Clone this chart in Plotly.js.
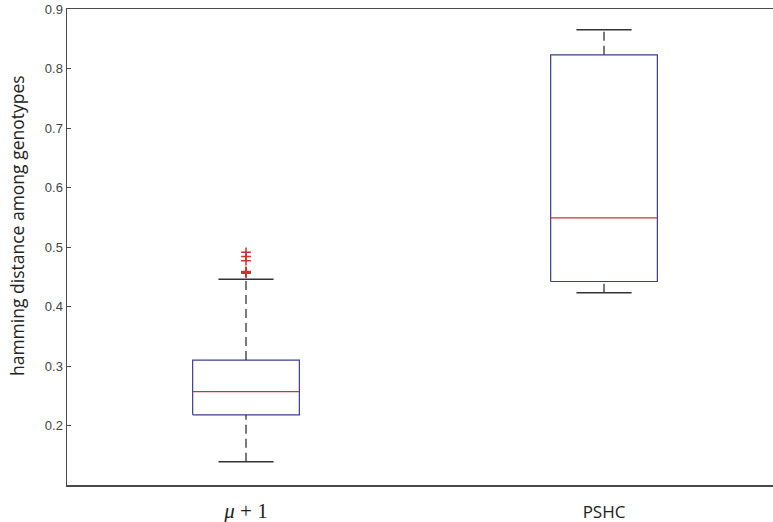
<!DOCTYPE html>
<html>
<head>
<meta charset="utf-8">
<script src="https://cdn.plot.ly/plotly-3.0.1.min.js"></script>
<style>html,body{margin:0;padding:0;background:#fff;}#chart{width:773px;height:522px;}</style>
</head>
<body>
<div id="chart"></div>
<script>
// ---- data ----
var categories = ['μ + 1', 'PSHC'];
var positions = [1, 2];
var lowerWhisker = [0.139, 0.423];
var q1Values = [0.218, 0.442];
var medianValues = [0.257, 0.549];
var q3Values = [0.310, 0.823];
var upperWhisker = [0.446, 0.865];
var outliersMu = [0.456, 0.457, 0.458, 0.459, 0.477, 0.484, 0.491];
var yTickVals = [0.2, 0.3, 0.4, 0.5, 0.6, 0.7, 0.8, 0.9];
var yTitle = 'hamming distance among genotypes';

// ---- style ----
var boxHalf = 0.149, capHalf = 0.077;
var boxColor = '#3b3b95', medColor = '#d03030', whiskColor = '#333333';

function fmtCat(c) {
  if (c.indexOf('μ') >= 0) {
    return '<span style="font-family:Liberation Serif;font-size:21px">' + c.replace('μ', '<i>μ</i>') + '</span>';
  }
  return c;
}

var traces = [];
for (var i = 0; i < positions.length; i++) {
  var p = positions[i];
  traces.push({x:[p-boxHalf,p+boxHalf,p+boxHalf,p-boxHalf,p-boxHalf], y:[q1Values[i],q1Values[i],q3Values[i],q3Values[i],q1Values[i]],
    mode:'lines', line:{color:boxColor,width:1.2}, hoverinfo:'skip', showlegend:false});
  traces.push({x:[p-boxHalf,p+boxHalf], y:[medianValues[i],medianValues[i]], mode:'lines', line:{color:medColor,width:1.2}, showlegend:false});
  traces.push({x:[p,p], y:[q3Values[i],upperWhisker[i]], mode:'lines', line:{color:whiskColor,width:1.3,dash:'9px,5px'}, showlegend:false});
  traces.push({x:[p,p], y:[lowerWhisker[i],q1Values[i]], mode:'lines', line:{color:whiskColor,width:1.3,dash:'9px,5px'}, showlegend:false});
  traces.push({x:[p-capHalf,p+capHalf], y:[upperWhisker[i],upperWhisker[i]], mode:'lines', line:{color:whiskColor,width:1.5}, showlegend:false});
  traces.push({x:[p-capHalf,p+capHalf], y:[lowerWhisker[i],lowerWhisker[i]], mode:'lines', line:{color:whiskColor,width:1.5}, showlegend:false});
}
traces.push({x: outliersMu.map(function(){return positions[0];}), y: outliersMu, mode:'markers',
  marker:{symbol:'cross-thin', size:7, color:medColor, line:{color:medColor,width:1.5}}, showlegend:false});

var layout = {
  width:773, height:522,
  margin:{l:67, r:0, t:9, b:37},
  paper_bgcolor:'#fff', plot_bgcolor:'#fff',
  showlegend:false,
  xaxis:{range:[0.5,2.472], tickvals:positions, ticktext:categories.map(fmtCat), showgrid:false, zeroline:false,
    showline:true, linecolor:'#4a4a4a', linewidth:1.5, mirror:true, ticks:'', ticklabelstandoff:11,
    tickfont:{family:'Open Sans', size:17, color:'#222'}},
  yaxis:{range:[0.1,0.9], tickvals:yTickVals, ticktext:yTickVals.map(function(v){return v.toFixed(1);}),
    showgrid:false, zeroline:false, showline:true, linecolor:'#4a4a4a', linewidth:1.5,
    ticks:'inside', ticklen:4, tickcolor:'#4a4a4a', tickwidth:1, ticklabelstandoff:0,
    tickfont:{family:'Liberation Sans', size:13, color:'#444'}},
  annotations:[{text:yTitle, xref:'paper', yref:'paper', x:0, y:0.544, xanchor:'center', yanchor:'middle',
    xshift:-50, textangle:-90, showarrow:false, font:{family:'Open Sans', size:17.5, color:'#222'}}]
};
Plotly.newPlot('chart', traces, layout, {staticPlot:true, displayModeBar:false});
</script>
</body>
</html>
